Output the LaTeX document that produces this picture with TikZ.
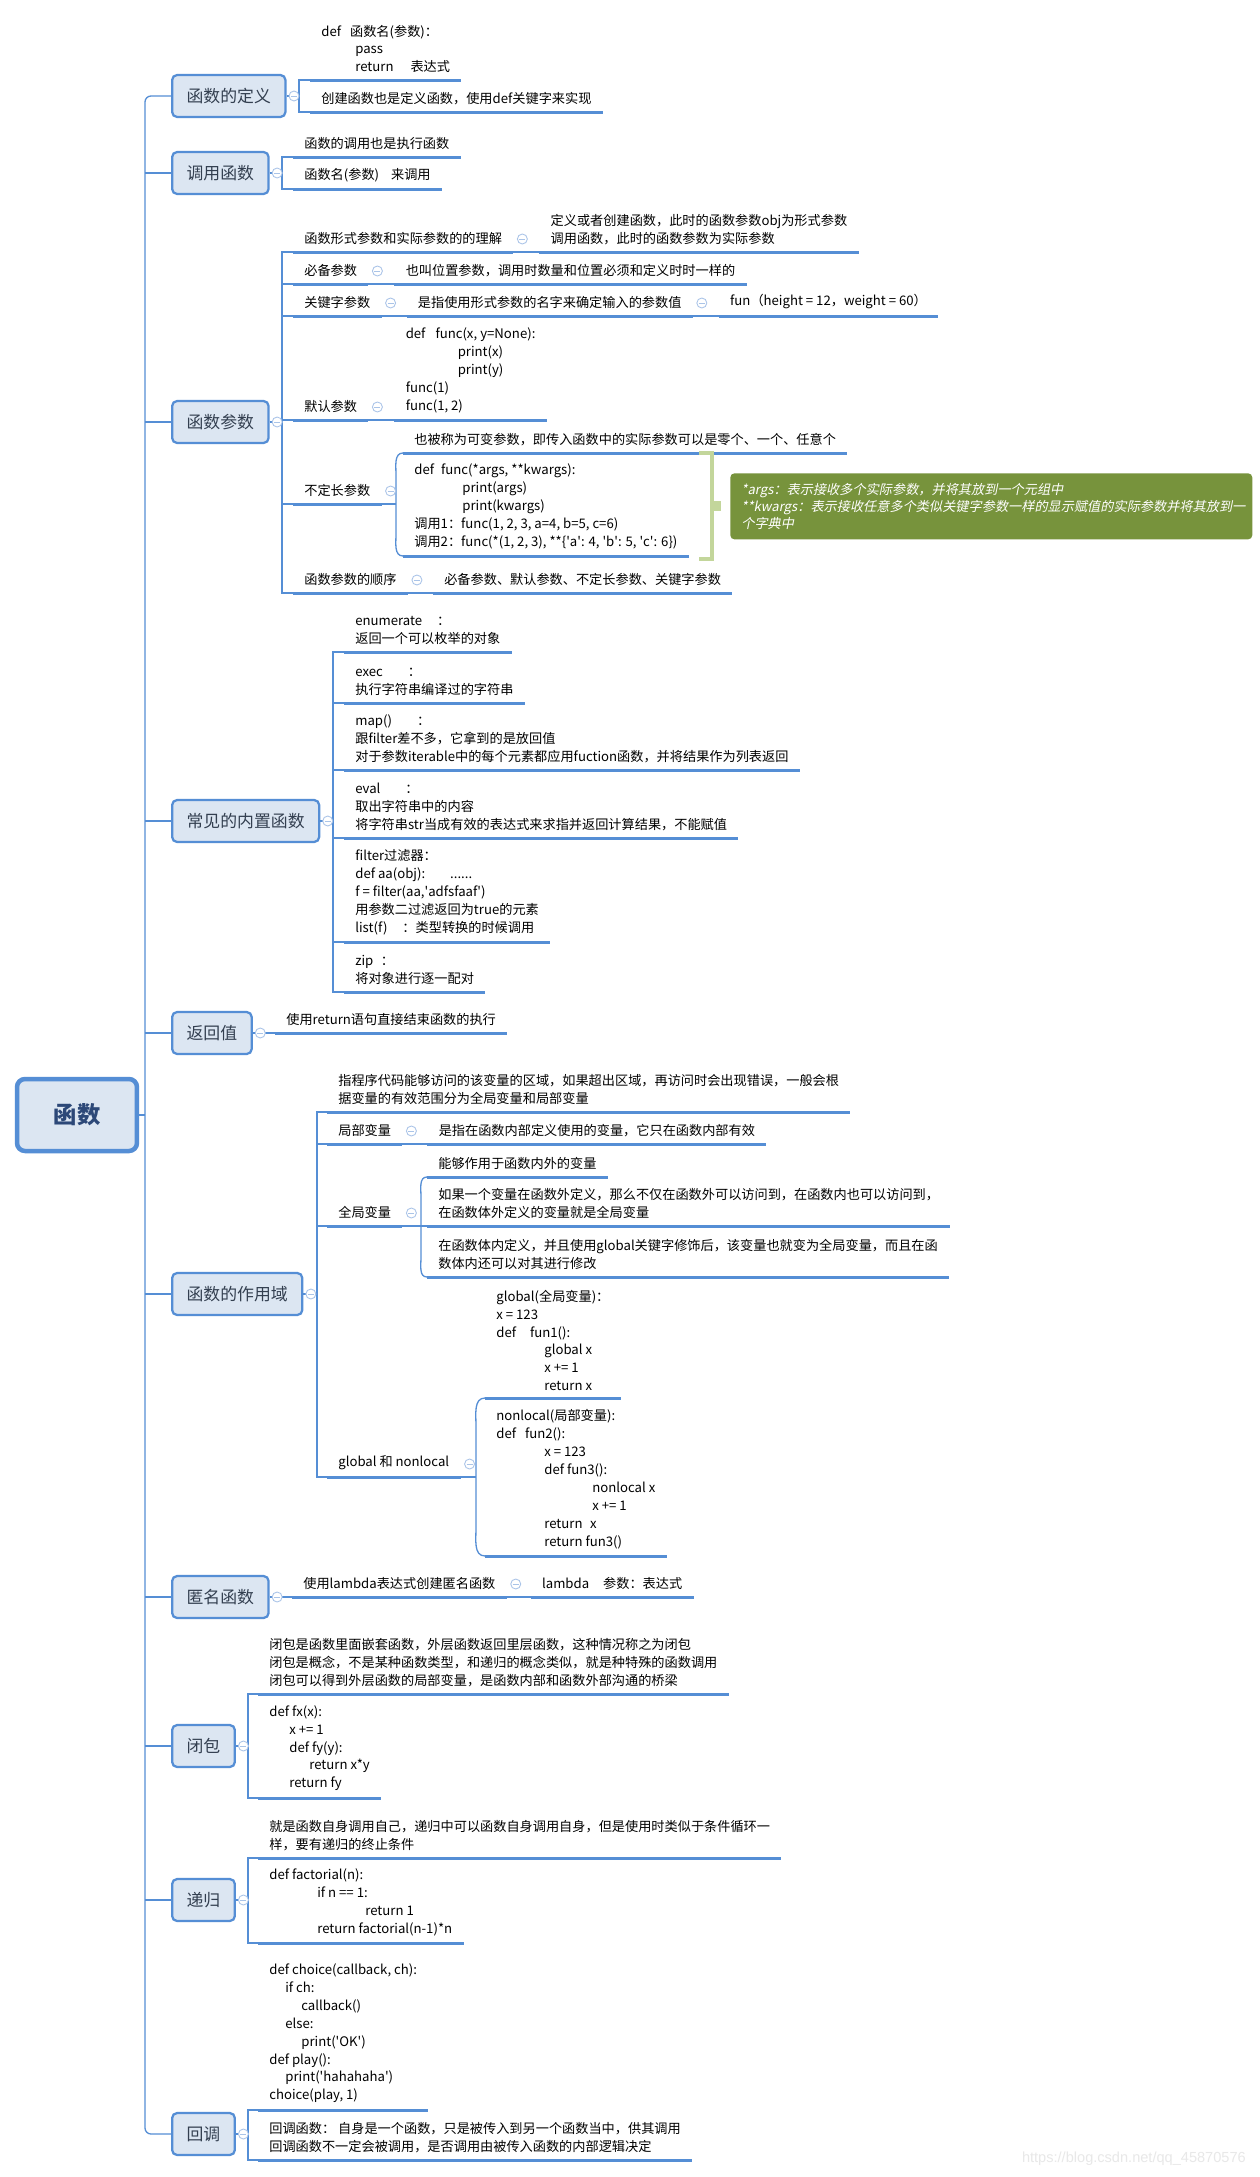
\documentclass[tikz,border=0pt]{standalone}
\usepackage{fontspec}
\setmainfont{Noto Sans CJK SC}
\newfontfamily\notefont{Noto Sans CJK SC}[FakeSlant=0.2]
\newfontfamily\urlfont{Liberation Sans}
\usetikzlibrary{positioning}
\definecolor{mapblue}{RGB}{85,142,213}
\definecolor{boxfill}{RGB}{220,230,242}
\definecolor{foldblue}{RGB}{170,196,232}
\definecolor{notegreen}{RGB}{119,147,60}
\definecolor{bracegreen}{RGB}{195,214,155}
\definecolor{titletext}{RGB}{51,63,80}
\definecolor{roottext}{RGB}{44,72,120}
\newcommand{\leaffont}{\fontsize{7.5pt}{10.2pt}\selectfont}
\newcommand{\q}{\textquotesingle}

\begin{document}
\begin{tikzpicture}[
		x = 0.02cm,
		y = 0.02cm,
		root/.style = {
			draw = mapblue,
			line width = 0.09cm,
			fill = boxfill,
			rounded corners = 0.16cm,
			minimum width = 2.4cm,
			minimum height = 1.44cm,
			font = \fontsize{13.3pt}{16pt}\selectfont\bfseries,
			text = roottext,
		},
		topic/.style = {
			draw = mapblue,
			line width = 0.045cm,
			fill = boxfill,
			rounded corners = 0.1cm,
			minimum height = 0.84cm,
			inner xsep = 0.29cm,
			anchor = west,
			font = \fontsize{9.6pt}{12pt}\selectfont,
			text = titletext,
		},
		leaf/.style = {
			anchor = south west,
			align = left,
			inner xsep = 0.22cm,
			inner ysep = 3.8pt,
			font = \leaffont,
			append after command = {\pgfextra{\let\leafname\tikzlastnode}
				(\leafname.south west) edge[uline] (\leafname.south east)},
		},
		fold/.style = {
			circle,
			draw = foldblue,
			fill = white,
			line width = 0.5pt,
			minimum size = 0.2cm,
			inner sep = 0pt,
			path picture = {\draw[foldblue, line width = 0.5pt]
				([xshift = -0.06cm]path picture bounding box.center) --
				([xshift = 0.06cm]path picture bounding box.center);},
		},
		note/.style = {
			anchor = north west,
			fill = notegreen,
			rounded corners = 0.08cm,
			text = white,
			align = left,
			text width = 10cm,
			inner xsep = 0.22cm,
			minimum height = 1.32cm,
			font = \notefont\fontsize{7.5pt}{9.9pt}\selectfont,
		},
		link/.style = {draw = mapblue, line width = 0.75pt},
		uline/.style = {draw = mapblue, line width = 0.06cm},
		brace/.style = {draw = bracegreen, line width = 0.08cm},
	]
	\useasboundingbox (0, 0) rectangle (1260, -2177);
	\fill[white] (0, 0) rectangle (1260, -2177);

	% main topics
	\node [root] (fn) at (77, -1115) {函数};
	\node [topic] (define) at (171, -96) {函数的定义};
	\node [topic] (call) at (171, -173) {调用函数};
	\node [topic] (param) at (171, -422) {函数参数};
	\node [topic] (builtin) at (171, -821) {常见的内置函数};
	\node [topic] (ret) at (171, -1033) {返回值};
	\node [topic] (scope) at (171, -1294) {函数的作用域};
	\node [topic] (anon) at (171, -1597) {匿名函数};
	\node [topic] (closure) at (171, -1746) {闭包};
	\node [topic] (recur) at (171, -1900) {递归};
	\node [topic] (callback) at (171, -2134) {回调};
	\coordinate (trunk) at (145, -1115);

	% definition and call
	\node [leaf] (defA) at (310, -80) {def\hspace{0.18cm}函数名(参数)：\\\hspace*{0.68cm}pass\\\hspace*{0.68cm}return\hspace{0.34cm}表达式};
	\node [leaf] (defB) at (310, -112) {创建函数也是定义函数，使用def关键字来实现};
	\node [leaf] (callA) at (293, -157) {函数的调用也是执行函数};
	\node [leaf] (callB) at (293, -189) {函数名(参数)\hspace{0.24cm}来调用};

	% parameters
	\node [leaf] (formal) at (293, -252) {函数形式参数和实际参数的的理解};
	\node [leaf] (formalA) at ([shift = {(26, 0)}]formal.south east) {定义或者创建函数，此时的函数参数obj为形式参数\\调用函数，此时的函数参数为实际参数};
	\node [leaf] (required) at (293, -284) {必备参数};
	\node [leaf] (requiredA) at ([shift = {(26, 0)}]required.south east) {也叫位置参数，调用时数量和位置必须和定义时时一样的};
	\node [leaf] (keyword) at (293, -316) {关键字参数};
	\node [leaf] (keywordA) at ([shift = {(25, 0)}]keyword.south east) {是指使用形式参数的名字来确定输入的参数值};
	\node [leaf] (keywordB) at ([shift = {(26, 0)}]keywordA.south east) {fun（height = 12，weight = 60）};
	\node [leaf] (dflt) at (293, -420) {默认参数};
	\node [leaf] (dfltA) at ([shift = {(26, 0)}]dflt.south east) {def\hspace{0.2cm}func(x, y=None):\\\hspace*{1.04cm}print(x)\\\hspace*{1.04cm}print(y)\\func(1)\\func(1, 2)};
	\node [leaf] (varlen) at (293, -504) {不定长参数};
	\node [leaf] (varlenA) at (403, -453) {也被称为可变参数，即传入函数中的实际参数可以是零个、一个、任意个};
	\node [leaf] (varlenB) at (403, -556) {def\hspace{0.14cm}func(*args, **kwargs):\\\hspace*{0.96cm}print(args)\\\hspace*{0.96cm}print(kwargs)\\调用1：func(1, 2, 3, a=4, b=5, c=6)\\调用2：func(*(1, 2, 3), **\{\q a\q: 4, \q b\q: 5, \q c\q: 6\})};
	\node [leaf] (order) at (293, -593) {函数参数的顺序};
	\node [leaf] (orderA) at ([shift = {(25, 0)}]order.south east) {必备参数、默认参数、不定长参数、关键字参数};
	\node [note] (argsNote) at (730, -473) {*args：表示接收多个实际参数，并将其放到一个元组中\\\relax**kwargs：表示接收任意多个类似关键字参数一样的显示赋值的实际参数并将其放到一\\个字典中};

	% built-in functions
	\node [leaf] (enumer) at (344, -652) {enumerate\hspace{0.3cm}：\\返回一个可以枚举的对象};
	\node [leaf] (execf) at (344, -703) {exec\hspace{0.5cm}：\\执行字符串编译过的字符串};
	\node [leaf] (mapf) at (344, -770) {map()\hspace{0.5cm}：\\跟filter差不多，它拿到的是放回值\\对于参数iterable中的每个元素都应用fuction函数，并将结果作为列表返回};
	\node [leaf] (evalf) at (344, -838) {eval\hspace{0.5cm}：\\取出字符串中的内容\\将字符串str当成有效的表达式来求指并返回计算结果，不能赋值};
	\node [leaf] (filterf) at (344, -942) {filter过滤器：\\def aa(obj):\hspace{0.5cm}......\\f = filter(aa,\q adfsfaaf\q)\\用参数二过滤返回为true的元素\\list(f)\hspace{0.3cm}：类型转换的时候调用};
	\node [leaf] (zipf) at (344, -992) {zip\hspace{0.15cm}：\\将对象进行逐一配对};

	% return value
	\node [leaf] (retA) at (275, -1033) {使用return语句直接结束函数的执行};

	% scope
	\node [leaf] (scopeA) at (327, -1112) {指程序代码能够访问的该变量的区域，如果超出区域，再访问时会出现错误，一般会根\\据变量的有效范围分为全局变量和局部变量};
	\node [leaf] (local) at (327, -1144) {局部变量};
	\node [leaf] (localA) at ([shift = {(25, 0)}]local.south east) {是指在函数内部定义使用的变量，它只在函数内部有效};
	\node [leaf] (global) at (327, -1226) {全局变量};
	\node [leaf] (globalA) at (427, -1177) {能够作用于函数内外的变量};
	\node [leaf] (globalB) at (427, -1226) {如果一个变量在函数外定义，那么不仅在函数外可以访问到，在函数内也可以访问到，\\在函数体外定义的变量就是全局变量};
	\node [leaf] (globalC) at (427, -1277) {在函数体内定义，并且使用global关键字修饰后，该变量也就变为全局变量，而且在函\\数体内还可以对其进行修改};
	\node [leaf] (keywords) at (327, -1477) {global 和 nonlocal};
	\node [leaf] (kwGlobal) at (485, -1398) {global(全局变量)：\\x = 123\\def\hspace{0.28cm}fun1():\\\hspace*{0.96cm}global x\\\hspace*{0.96cm}x += 1\\\hspace*{0.96cm}return x};
	\node [leaf] (kwNonlocal) at (485, -1556) {nonlocal(局部变量):\\def\hspace{0.18cm}fun2():\\\hspace*{0.96cm}x = 123\\\hspace*{0.96cm}def fun3():\\\hspace*{1.92cm}nonlocal x\\\hspace*{1.92cm}x += 1\\\hspace*{0.96cm}return\hspace{0.15cm}x\\\hspace*{0.96cm}return fun3()};

	% lambda, closure, recursion, callback
	\node [leaf] (lambdaA) at (292, -1597) {使用lambda表达式创建匿名函数};
	\node [leaf] (lambdaB) at ([shift = {(24, 0)}]lambdaA.south east) {lambda\hspace{0.28cm}参数：表达式};
	\node [leaf] (closureA) at (258, -1694) {闭包是函数里面嵌套函数，外层函数返回里层函数，这种情况称之为闭包\\闭包是概念，不是某种函数类型，和递归的概念类似，就是种特殊的函数调用\\闭包可以得到外层函数的局部变量，是函数内部和函数外部沟通的桥梁};
	\node [leaf] (closureB) at (258, -1798) {def fx(x):\\\hspace*{0.4cm}x += 1\\\hspace*{0.4cm}def fy(y):\\\hspace*{0.8cm}return x*y\\\hspace*{0.4cm}return fy};
	\node [leaf] (recurA) at (258, -1858) {就是函数自身调用自己，递归中可以函数自身调用自身，但是使用时类似于条件循环一\\样，要有递归的终止条件};
	\node [leaf] (recurB) at (258, -1943) {def factorial(n):\\\hspace*{0.96cm}if n == 1:\\\hspace*{1.92cm}return 1\\\hspace*{0.96cm}return factorial(n-1)*n};
	\node [leaf] (callbackA) at (258, -2110) {def choice(callback, ch):\\\hspace*{0.32cm}if ch:\\\hspace*{0.64cm}callback()\\\hspace*{0.32cm}else:\\\hspace*{0.64cm}print(\q OK\q)\\def play():\\\hspace*{0.32cm}print(\q hahahaha\q)\\choice(play, 1)};
	\node [leaf] (callbackB) at (258, -2160) {回调函数： 自身是一个函数，只是被传入到另一个函数当中，供其调用\\回调函数不一定会被调用，是否调用由被传入函数的内部逻辑决定};

	% trunk
	\draw [link] (fn.east) -- (trunk);
	\draw [link, rounded corners = 0.12cm] (define.west) -| (trunk) |- (callback.west);
	\foreach \t in {call, param, builtin, ret, scope, anon, closure, recur}
		\draw [link] (\t.west) -- (\t.west -| trunk);

	% brackets
	\draw [link] (defA.south west) -- ++(-11, 0) coordinate (defineBr) |- (defB.south west);
	\draw [link] (define.east) -- (define.east -| defineBr);
	\draw [link] (callA.south west) -- ++(-11, 0) coordinate (callBr) |- (callB.south west);
	\draw [link] (call.east) -- (call.east -| callBr);

	\draw [link] (formal.south west) -- ++(-11, 0) coordinate (paramBr) |- (order.south west);
	\draw [link] (param.east) -- (param.east -| paramBr);
	\foreach \n in {required, keyword, dflt, varlen}
		\draw [link] (\n.south west) -- (\n.south west -| paramBr);
	\draw [link] (formal.south east) -- (formalA.south west);
	\draw [link] (required.south east) -- (requiredA.south west);
	\draw [link] (keyword.south east) -- (keywordA.south west);
	\draw [link] (keywordA.south east) -- (keywordB.south west);
	\draw [link] (dflt.south east) -- (dfltA.south west);
	\draw [link] (order.south east) -- (orderA.south west);
	\draw [link] (varlenA.south west) to[out = 180, in = 90] ([shift = {(-7, -22)}]varlenA.south west) coordinate (varlenBr)
		-- ([shift = {(-7, 22)}]varlenB.south west) to[out = -90, in = 180] (varlenB.south west);
	\draw [link] (varlen.south east) -- (varlen.south east -| varlenBr);
	\draw [brace] (699, -453) -- (712, -453) -- (712, -559) -- (699, -559);
	\fill [bracegreen] (712, -501) rectangle (721, -511);

	\draw [link] (enumer.south west) -- ++(-11, 0) coordinate (builtinBr) |- (zipf.south west);
	\draw [link] (builtin.east) -- (builtin.east -| builtinBr);
	\foreach \n in {execf, mapf, evalf, filterf}
		\draw [link] (\n.south west) -- (\n.south west -| builtinBr);

	\draw [link] (ret.east) -- (retA.south west);

	\draw [link] (scopeA.south west) -- ++(-10, 0) coordinate (scopeBr) |- (keywords.south west);
	\draw [link] (scope.east) -- (scope.east -| scopeBr);
	\foreach \n in {local, global}
		\draw [link] (\n.south west) -- (\n.south west -| scopeBr);
	\draw [link] (local.south east) -- (localA.south west);
	\draw [link] (global.south east) -- (globalB.south west);
	\draw [link] (globalA.south west) to[out = 180, in = 90] ([shift = {(-6, -20)}]globalA.south west)
		-- ([shift = {(-6, 20)}]globalC.south west) to[out = -90, in = 180] (globalC.south west);
	\draw [link] (kwGlobal.south west) to[out = 180, in = 90] ([shift = {(-9, -28)}]kwGlobal.south west) coordinate (kwBr)
		-- ([shift = {(-9, 28)}]kwNonlocal.south west) to[out = -90, in = 180] (kwNonlocal.south west);
	\draw [link] (keywords.south east) -- (keywords.south east -| kwBr);

	\draw [link] (anon.east) -- (lambdaA.south west);
	\draw [link] (lambdaA.south east) -- (lambdaB.south west);

	\draw [link] (closureA.south west) -- ++(-10, 0) coordinate (closureBr) |- (closureB.south west);
	\draw [link] (closure.east) -- (closure.east -| closureBr);
	\draw [link] (recurA.south west) -- ++(-10, 0) coordinate (recurBr) |- (recurB.south west);
	\draw [link] (recur.east) -- (recur.east -| recurBr);
	\draw [link] (callbackA.south west) -- ++(-10, 0) coordinate (callbackBr) |- (callbackB.south west);
	\draw [link] (callback.east) -- (callback.east -| callbackBr);

	% fold marks
	\foreach \t in {define, call, param, builtin, ret, scope, anon, closure, recur, callback}
		\node [fold, right = 0.04cm of \t] (\t F) {};
	\foreach \n in {formal, required, keyword, keywordA, dflt, varlen, order, local, global, keywords, lambdaA}
		\node [fold] (\n F) at ([shift = {(9, 13)}]\n.south east) {};

	\node [font = \urlfont\fontsize{8.3pt}{10pt}\selectfont, text = black!9, anchor = east] (mark) at (1252, -2159) {https://blog.csdn.net/qq\_45870576};
\end{tikzpicture}
\end{document}
